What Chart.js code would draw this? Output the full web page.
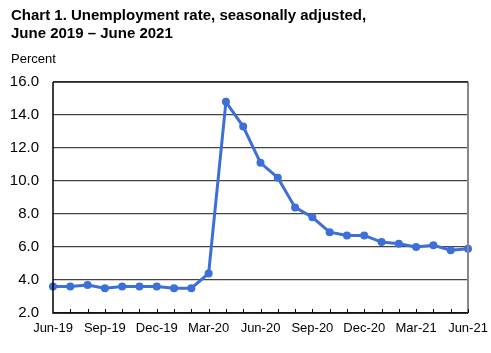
<!DOCTYPE html>
<html>
<head>
<meta charset="utf-8">
<script src="https://cdn.jsdelivr.net/npm/chart.js@4/dist/chart.umd.min.js"></script>
<style>
html,body{margin:0;padding:0;background:#fff;}
#wrap{position:relative;width:491px;height:353px;}
canvas{display:block;}
</style>
</head>
<body>
<div id="wrap"><canvas id="c" width="491" height="353"></canvas></div>
<script>
const titleLines = ["Chart 1. Unemployment rate, seasonally adjusted,", "June 2019 \u2013 June 2021"];
const yAxisTitle = "Percent";
const categories = ["Jun-19","Jul-19","Aug-19","Sep-19","Oct-19","Nov-19","Dec-19","Jan-20","Feb-20","Mar-20","Apr-20","May-20","Jun-20","Jul-20","Aug-20","Sep-20","Oct-20","Nov-20","Dec-20","Jan-21","Feb-21","Mar-21","Apr-21","May-21","Jun-21"];
const unemploymentRate = [3.6,3.6,3.7,3.5,3.6,3.6,3.6,3.5,3.5,4.4,14.8,13.3,11.1,10.2,8.4,7.8,6.9,6.7,6.7,6.3,6.2,6.0,6.1,5.8,5.9];
const yTicks = [2,4,6,8,10,12,14,16];

const FONT = "'Liberation Sans', Arial, sans-serif";
const BLUE = "#3d6fd9";

const decor = {
  id: 'decor',
  afterDraw(chart) {
    const ctx = chart.ctx;
    const a = chart.chartArea;
    const x = chart.scales.x;
    ctx.save();
    ctx.fillStyle = '#000';
    ctx.textBaseline = 'alphabetic';
    ctx.textAlign = 'left';
    ctx.font = "bold 15px " + FONT;
    ctx.fillText(titleLines[0], 11, 20);
    ctx.fillText(titleLines[1], 11, 38);
    ctx.font = "13px " + FONT;
    ctx.fillText(yAxisTitle, 11, 63);
    // right border
    ctx.strokeStyle = '#888';
    ctx.lineWidth = 2;
    ctx.beginPath();
    ctx.moveTo(a.right, a.top);
    ctx.lineTo(a.right, a.bottom);
    ctx.stroke();
    // top border
    ctx.strokeStyle = '#222';
    ctx.lineWidth = 1.5;
    ctx.beginPath();
    ctx.moveTo(a.left, a.top);
    ctx.lineTo(a.right, a.top);
    ctx.stroke();
    // inward tick marks on x axis
    ctx.strokeStyle = '#000';
    ctx.lineWidth = 1;
    ctx.beginPath();
    for (let i = 1; i < categories.length; i++) {
      const px = Math.round(x.getPixelForValue(i)) + 0.5;
      ctx.moveTo(px, a.bottom);
      ctx.lineTo(px, a.bottom - 4);
    }
    ctx.stroke();
    // axes
    ctx.strokeStyle = '#000';
    ctx.lineWidth = 1.5;
    ctx.beginPath();
    ctx.moveTo(a.left, a.top);
    ctx.lineTo(a.left, a.bottom);
    ctx.lineTo(a.right, a.bottom);
    ctx.stroke();
    ctx.restore();
  }
};

new Chart(document.getElementById('c'), {
  type: 'line',
  data: {
    labels: categories,
    datasets: [{
      data: unemploymentRate,
      borderColor: BLUE,
      backgroundColor: BLUE,
      borderWidth: 3,
      pointRadius: 4,
      pointBackgroundColor: BLUE,
      pointBorderWidth: 0,
      tension: 0,
      clip: false
    }]
  },
  options: {
    responsive: false,
    animation: false,
    events: [],
    layout: { padding: { top: 82, right: 0, left: 0, bottom: 0 } },
    plugins: { legend: { display: false }, title: { display: false }, tooltip: { enabled: false } },
    scales: {
      x: {
        offset: false,
        grid: { display: false, drawTicks: false },
        border: { display: false },
        afterFit(s) { s.height = 40; s.paddingRight = 23; },
        ticks: {
          autoSkip: false,
          maxRotation: 0,
          minRotation: 0,
          padding: 8,
          color: '#000',
          font: { family: FONT, size: 13 },
          callback(v, i) { return i % 3 === 0 ? categories[i] : ''; }
        }
      },
      y: {
        min: 2,
        max: 16,
        afterFit(s) { s.width = 53; },
        afterBuildTicks(s) { s.ticks = yTicks.map(v => ({ value: v })); },
        grid: { color: '#444', lineWidth: 1.2, drawTicks: false },
        border: { display: false },
        ticks: {
          padding: 14,
          color: '#000',
          font: { family: FONT, size: 15 },
          callback(v) { return Number(v).toFixed(1); }
        }
      }
    }
  },
  plugins: [decor]
});
</script>
</body>
</html>
